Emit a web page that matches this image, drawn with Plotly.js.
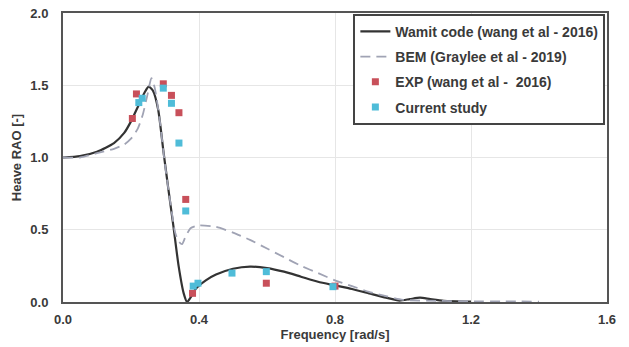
<!DOCTYPE html>
<html><head><meta charset="utf-8">
<script src="https://cdn.plot.ly/plotly-3.0.1.min.js"></script>
<style>html,body{margin:0;padding:0;background:#fff}#chart{width:629px;height:347px}</style>
</head><body><div id="chart"></div>
<script>
const wamitX = [0, 0.05, 0.1, 0.15, 0.18, 0.2, 0.22, 0.24, 0.252, 0.265, 0.28, 0.295, 0.31, 0.325, 0.34, 0.355, 0.365, 0.375, 0.39, 0.42, 0.45, 0.5, 0.55, 0.6, 0.65, 0.7, 0.75, 0.8, 0.85, 0.9, 0.95, 0.99, 1.02, 1.05, 1.08, 1.12, 1.2];
const wamitY = [1.0, 1.01, 1.04, 1.10, 1.17, 1.25, 1.35, 1.45, 1.49, 1.46, 1.33, 1.05, 0.78, 0.52, 0.25, 0.06, 0.0, 0.03, 0.09, 0.15, 0.19, 0.23, 0.245, 0.235, 0.21, 0.175, 0.14, 0.115, 0.09, 0.06, 0.03, 0.01, 0.02, 0.03, 0.02, 0.008, 0.003];
const bemX = [0, 0.05, 0.1, 0.15, 0.18, 0.2, 0.22, 0.235, 0.248, 0.26, 0.27, 0.285, 0.3, 0.315, 0.33, 0.34, 0.35, 0.36, 0.375, 0.4, 0.45, 0.5, 0.55, 0.6, 0.65, 0.7, 0.75, 0.8, 0.85, 0.9, 0.95, 1.0, 1.1, 1.2, 1.3, 1.4];
const bemY = [1.0, 1.0, 1.03, 1.06, 1.09, 1.13, 1.2, 1.3, 1.43, 1.55, 1.48, 1.25, 0.95, 0.7, 0.48, 0.42, 0.40, 0.45, 0.51, 0.53, 0.52, 0.48, 0.43, 0.37, 0.31, 0.25, 0.2, 0.15, 0.11, 0.07, 0.04, 0.015, 0.008, 0.005, 0.004, 0.003];
const expX = [0.204, 0.216, 0.295, 0.319, 0.341, 0.361, 0.381, 0.598, 0.8];
const expY = [1.27, 1.44, 1.51, 1.43, 1.31, 0.71, 0.06, 0.13, 0.11];
const curX = [0.223, 0.233, 0.295, 0.319, 0.341, 0.361, 0.383, 0.397, 0.497, 0.598, 0.794];
const curY = [1.38, 1.41, 1.48, 1.375, 1.10, 0.63, 0.11, 0.13, 0.20, 0.21, 0.106];
const xTicks = [0, 0.4, 0.8, 1.2, 1.6];
const xTickText = ['0.0', '0.4', '0.8', '1.2', '1.6'];
const yTicks = [0, 0.5, 1.0, 1.5, 2.0];
const yTickText = ['0.0', '0.5', '1.0', '1.5', '2.0'];

const F = 'Liberation Sans, Arial, sans-serif';
const traces = [
  {x: wamitX, y: wamitY, mode: 'lines', name: '<b>Wamit code (wang et al - 2016)</b>', line: {color: '#333333', width: 2.2, shape: 'spline', smoothing: 0.6}, legendgroup: 'a'},
  {x: bemX, y: bemY, mode: 'lines', name: '<b>BEM (Graylee et al - 2019)</b>', line: {color: '#a0a3b4', width: 1.8, dash: '10px,6px', shape: 'spline', smoothing: 0.6}, legendgroup: 'b'},
  {x: expX, y: expY, mode: 'markers', name: '<b>EXP (wang et al -  2016)</b>', marker: {color: '#c8505a', size: 7, symbol: 'square'}, legendgroup: 'c'},
  {x: curX, y: curY, mode: 'markers', name: '<b>Current study</b>', marker: {color: '#4fbcd8', size: 7, symbol: 'square'}, legendgroup: 'd'}
];
const layout = {
  width: 629, height: 347,
  margin: {l: 63, r: 22, t: 13, b: 45},
  paper_bgcolor: '#fff', plot_bgcolor: '#fff',
  font: {family: F, size: 13, color: '#3a3a3a'},
  showlegend: true,
  legend: {x: 0.997, y: 0.997, xanchor: 'right', yanchor: 'top', bgcolor: '#fff', bordercolor: '#444', borderwidth: 2,
           font: {family: F, size: 14, color: '#3a3a3a'}, tracegroupgap: 4, traceorder: 'grouped', itemwidth: 30},
  xaxis: {range: [0, 1.6], tickvals: xTicks, ticktext: xTickText, showgrid: true, gridcolor: '#e6e6e6', gridwidth: 1,
          zeroline: false, showline: true, mirror: true, linecolor: '#555', linewidth: 2, ticks: '', ticklabelstandoff: 4,
          tickfont: {family: F, size: 13, color: '#3a3a3a', weight: 'bold'},
          title: {text: '<b>Frequency [rad/s]</b>', font: {family: F, size: 13, color: '#3a3a3a'}, standoff: 0}},
  yaxis: {range: [0, 2.0], tickvals: yTicks, ticktext: yTickText, showgrid: true, gridcolor: '#e6e6e6', gridwidth: 1,
          zeroline: false, showline: true, mirror: true, linecolor: '#555', linewidth: 2, ticks: '', ticklabelstandoff: 10,
          tickfont: {family: F, size: 13, color: '#3a3a3a', weight: 'bold'},
          title: {text: '<b>Heave RAO [-]</b>', font: {family: F, size: 13, color: '#3a3a3a'}, standoff: 6}}
};
Plotly.newPlot('chart', traces, layout, {displayModeBar: false, staticPlot: true});
</script></body></html>
